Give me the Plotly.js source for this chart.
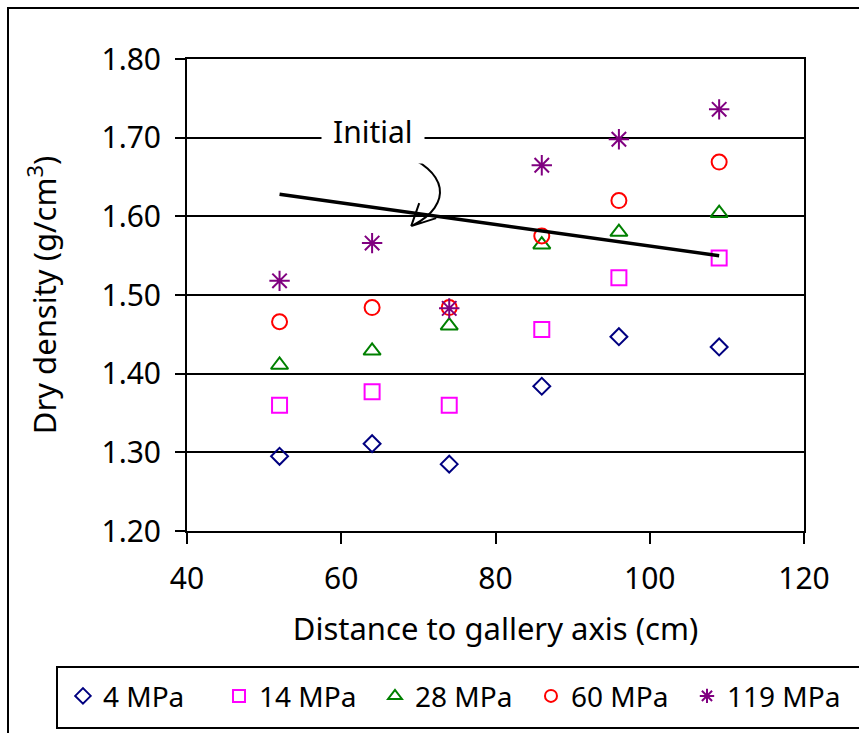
<!DOCTYPE html>
<html>
<head>
<meta charset="utf-8">
<script src="https://cdn.plot.ly/plotly-3.0.1.min.js"></script>
<style>html,body{margin:0;padding:0;background:#fff;}#chart{width:859px;height:733px;}</style>
</head>
<body>
<div id="chart"></div>
<script>
// ---- data ----
const distance = [52, 64, 74, 86, 96, 109];
const mpa4   = [1.295, 1.311, 1.285, 1.384, 1.447, 1.434];
const mpa14  = [1.360, 1.377, 1.360, 1.456, 1.522, 1.547];
const mpa28  = [1.411, 1.429, 1.461, 1.564, 1.580, 1.604];
const mpa60  = [1.466, 1.484, 1.484, 1.575, 1.620, 1.669];
const mpa119 = [1.518, 1.566, 1.483, 1.665, 1.698, 1.736];
const initialX = [52, 109];
const initialY = [1.628, 1.550];
const seriesNames = ['4 MPa', '14 MPa', '28 MPa', '60 MPa', '119 MPa'];
const yTickVals = [1.20, 1.30, 1.40, 1.50, 1.60, 1.70, 1.80];
const yTickText = ['1.20', '1.30', '1.40', '1.50', '1.60', '1.70', '1.80'];
const xTickVals = [40, 60, 80, 100, 120];

// annotation arrow (curved) geometry in data units
const arrowStart = [67.25, 1.6815];
const arrowC1 = [74.12, 1.6586];
const arrowC2 = [74.38, 1.6142];
const arrowEnd = [69.33, 1.5888];
const arrowTip = [69.07, 1.5876];
const arrowHeadA = [70.11, 1.6168];
const arrowHeadB = [72.31, 1.5977];

const FONT = '"Noto Sans", "Open Sans", sans-serif';

function mk(name, y, symbol, color, size) {
  return {
    type: 'scatter', mode: 'markers', name: name,
    x: distance, y: y,
    marker: {symbol: symbol, size: size, color: color, line: {color: color, width: 2}}
  };
}

const traces = [
  mk(seriesNames[0], mpa4, 'diamond-open', '#000080', 13),
  mk(seriesNames[1], mpa14, 'square-open', '#FF00FF', 15),
  mk(seriesNames[2], mpa28, 'triangle-up-open', '#008000', 15),
  mk(seriesNames[3], mpa60, 'circle-open', '#FF0000', 15),
  mk(seriesNames[4], mpa119, 'asterisk-open', '#800080', 17),
  {type: 'scatter', mode: 'lines', name: 'Initial', x: initialX, y: initialY,
   line: {color: '#000000', width: 3.5}, showlegend: false}
];

const p = (pt) => pt[0] + ',' + pt[1];
const arrowPath = 'M' + p(arrowStart) + ' C' + p(arrowC1) + ' ' + p(arrowC2) + ' ' + p(arrowEnd) +
  ' M' + p(arrowTip) + ' L' + p(arrowHeadA) + ' M' + p(arrowTip) + ' L' + p(arrowHeadB);

const layout = {
  width: 859, height: 733,
  margin: {l: 187, r: 55, t: 59, b: 202},
  paper_bgcolor: '#fff', plot_bgcolor: '#fff',
  font: {family: FONT, size: 30, color: '#000'},
  showlegend: true,
  legend: {
    orientation: 'h', x: -0.2010, xanchor: 'left', y: -0.297, yanchor: 'top',
    borderwidth: 0, bgcolor: 'rgba(0,0,0,0)', font: {family: FONT, size: 28, color: '#000'},
    itemsizing: 'constant', entrywidth: 111, entrywidthmode: 'pixels'
  },
  xaxis: {
    range: [40, 120], tickvals: xTickVals, ticks: 'outside', ticklen: 11, tickwidth: 2, tickcolor: '#000',
    showline: true, linecolor: '#000', linewidth: 2, mirror: true, showgrid: false, zeroline: false,
    tickfont: {family: FONT, size: 30}, ticklabelstandoff: 9,
    title: {text: 'Distance to gallery axis (cm)', font: {family: FONT, size: 31}, standoff: 21}
  },
  yaxis: {
    range: [1.20, 1.80], tickvals: yTickVals, ticktext: yTickText, ticks: 'outside', ticklen: 10, tickwidth: 2, tickcolor: '#000',
    showline: true, linecolor: '#000', linewidth: 2, mirror: true, showgrid: true, gridcolor: '#000', gridwidth: 2, zeroline: false,
    tickfont: {family: FONT, size: 30}, ticklabelstandoff: 8,
    title: {text: 'Dry density (g/cm<sup>3</sup>)', font: {family: FONT, size: 31}, standoff: 36}
  },
  annotations: [{
    x: 64.14, y: 1.708, xref: 'x', yref: 'y', text: 'Initial', showarrow: false,
    bgcolor: '#fff', borderpad: 11, font: {family: FONT, size: 30, color: '#000'}
  }],
  shapes: [
    {type: 'path', xref: 'x', yref: 'y', path: arrowPath, line: {color: '#000', width: 2}},
    {type: 'rect', xref: 'paper', yref: 'paper', x0: (8 - 187) / 617, x1: (900 - 187) / 617,
     y0: (531 - 800) / 472, y1: (531 - 8) / 472, line: {color: '#000', width: 2}, fillcolor: 'rgba(0,0,0,0)', layer: 'below'},
    {type: 'rect', xref: 'paper', yref: 'paper', x0: (57 - 187) / 617, x1: (890 - 187) / 617,
     y0: (531 - 728) / 472, y1: (531 - 667) / 472, line: {color: '#000', width: 2}, fillcolor: 'rgba(0,0,0,0)', layer: 'below'}
  ]
};

Plotly.newPlot('chart', traces, layout, {displayModeBar: false, staticPlot: true});
</script>
</body>
</html>
